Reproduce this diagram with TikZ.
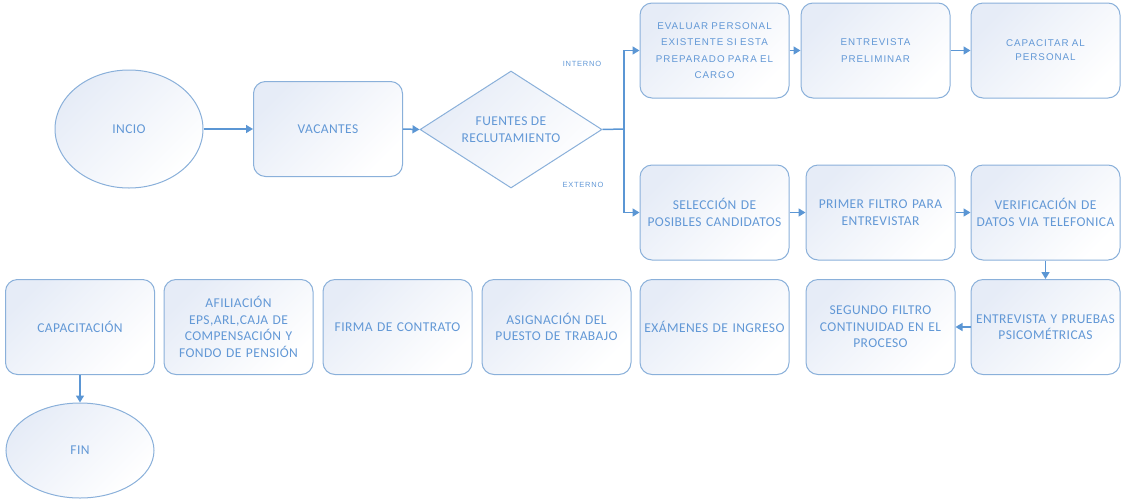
\documentclass[tikz,border=0pt]{standalone}
\usepackage{fontspec}
\setmainfont{Carlito}
\newfontfamily\bodyfont[LetterSpace=3]{Carlito}
\newfontfamily\widefont[LetterSpace=10]{Liberation Sans}
\usetikzlibrary{shapes.geometric,arrows.meta}

\definecolor{txtc}{RGB}{98,152,214}
\definecolor{edgec}{RGB}{138,176,218}
\definecolor{arrc}{RGB}{91,150,212}
\definecolor{fillc}{RGB}{230,236,247}

\begin{document}
\begin{tikzpicture}[x=1pt,y=-1pt,
  shaded/.style={top color=fillc, bottom color=white, shading angle=45},
  box/.style={shaded, draw=edgec, line width=1pt, rectangle, rounded corners=12pt,
    minimum width=149pt, minimum height=95pt, inner sep=1pt, text width=146pt,
    align=center, text=txtc, font=\bodyfont\fontsize{13.5}{16.5}\selectfont},
  topbox/.style={box, font=\widefont\fontsize{9.8}{16.3}\selectfont},
  oval/.style={shaded, ellipse, draw=edgec, line width=1pt, inner sep=0pt,
    text=txtc, font=\bodyfont\fontsize{13.5}{16.5}\selectfont},
  choice/.style={shaded, diamond, draw=edgec, line width=1pt, inner sep=0pt,
    aspect=1.5, minimum width=182pt, minimum height=117pt, align=center,
    text=txtc, font=\bodyfont\fontsize{13.5}{17}\selectfont},
  arr/.style={draw=arrc, line width=1.5pt, -{Triangle[length=7pt,width=8pt]}},
  tag/.style={text=txtc, font=\widefont\fontsize{7.5}{9}\selectfont}
]
\useasboundingbox (0,0) rectangle (1123,501);

% start, vacancies and the recruiting decision
\node[oval, minimum width=148pt, minimum height=118pt] (inicio) at (129,129) {INCIO};
\node[box] (vacantes) at (328,129) {VACANTES};
\node[choice] (fuentes) at (511,129.5) {FUENTES DE\\RECLUTAMIENTO};
\coordinate (split) at (624,129);

% internal branch
\node[topbox] (evaluar) at (714.5,50.5) {EVALUAR PERSONAL\\EXISTENTE SI ESTA\\PREPARADO PARA EL\\CARGO};
\node[topbox] (prelim) at (875.5,50.5) {ENTREVISTA\\PRELIMINAR};
\node[topbox, font=\widefont\fontsize{9.8}{14}\selectfont] (capacitar) at (1045.5,50.5) {CAPACITAR AL\\PERSONAL};

% external branch
\node[box] (seleccion) at (714.5,212.5) {SELECCIÓN DE\\POSIBLES CANDIDATOS};
\node[box] (filtro1) at (880.5,212.5) {PRIMER FILTRO PARA\\ENTREVISTAR};
\node[box] (verif) at (1045.5,212.5) {VERIFICACIÓN DE\\DATOS VIA TELEFONICA};

% bottom row
\node[box] (pruebas) at (1045.5,327) {ENTREVISTA Y PRUEBAS\\PSICOMÉTRICAS};
\node[box] (filtro2) at (880.5,327) {SEGUNDO FILTRO\\CONTINUIDAD EN EL\\PROCESO};
\node[box] (examenes) at (714.5,327) {EXÁMENES DE INGRESO};
\node[box] (asignacion) at (556.5,327) {ASIGNACIÓN DEL\\PUESTO DE TRABAJO};
\node[box] (firma) at (397.5,327) {FIRMA DE CONTRATO};
\node[box] (afiliacion) at (238.5,327) {AFILIACIÓN\\EPS,ARL,CAJA DE\\COMPENSACIÓN Y\\FONDO DE PENSIÓN};
\node[box] (capacitacion) at (80,327) {CAPACITACIÓN};
\node[oval, minimum width=148pt, minimum height=95pt] (fin) at (80,450.5) {FIN};

% branch labels
\node[tag] (interno) at (582,64) {INTERNO};
\node[tag] (externo) at (583,185) {EXTERNO};

% connectors
\draw[arr] (inicio.east) -- (vacantes.west);
\draw[arr] (vacantes.east) -- (fuentes.west);
\draw[draw=arrc, line width=1.5pt] (fuentes.east) -- (split);
\draw[arr] (split) |- (evaluar.west);
\draw[arr] (split) |- (seleccion.west);
\draw[arr] (evaluar.east) -- (prelim.west);
\draw[arr] (prelim.east) -- (capacitar.west);
\draw[arr] (seleccion.east) -- (filtro1.west);
\draw[arr] (filtro1.east) -- (verif.west);
\draw[arr] (verif.south) -- (pruebas.north);
\draw[arr] (pruebas.west) -- (filtro2.east);
\draw[arr] (capacitacion.south) -- (fin.north);
\end{tikzpicture}
\end{document}
